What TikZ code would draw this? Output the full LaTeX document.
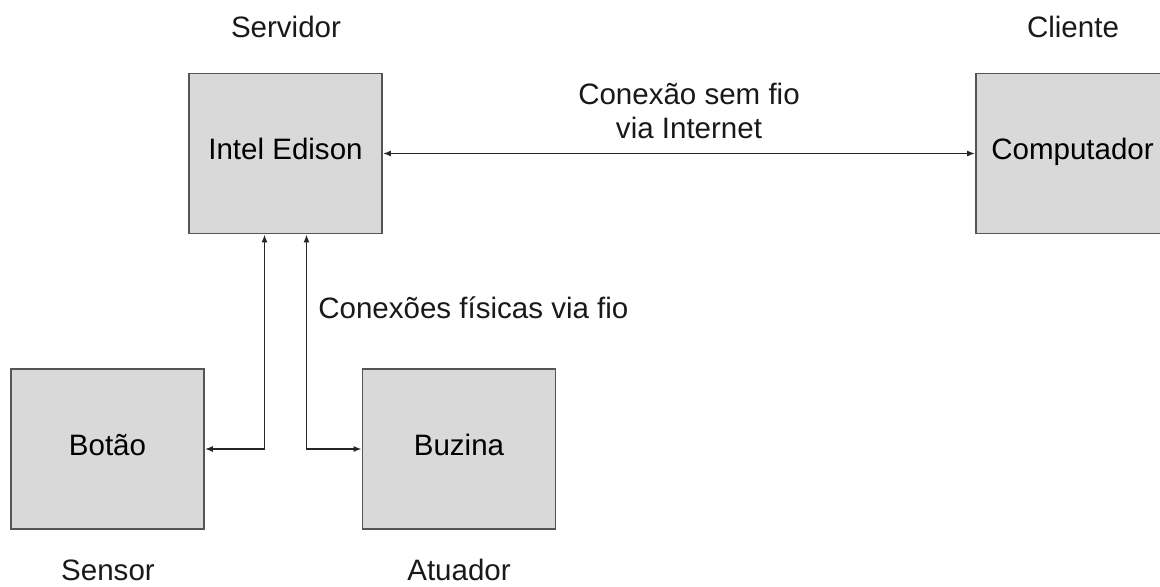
\documentclass[tikz,border=0pt]{standalone}
\usepackage{fontspec}
\setmainfont{Liberation Sans}
\usetikzlibrary{arrows.meta}
\definecolor{boxgray}{HTML}{D9D9D9}
\definecolor{edgegray}{HTML}{555555}

\begin{document}
\begin{tikzpicture}[x=0.02cm, y=-0.02cm, every node/.style={font=\fontsize{16.8}{18.8}\selectfont}]
	\tikzstyle{blocknode}=[draw=edgegray, line width=1pt, fill=boxgray, minimum width=3.86cm, minimum height=3.2cm, text height=0.72em, text depth=0pt, inner sep=0pt]
	\tikzstyle{tagnode}=[anchor=base, inner sep=0pt, text=black!90]
	\tikzstyle{link}=[<->, >={Latex[length=1.6mm, width=1.2mm]}, line width=0.85pt, draw=black!85]

	\useasboundingbox (0,0) rectangle (1160,586);

	\node (srv) at (285.5,153.5) [blocknode] {Intel Edison};
	\node (cli) at (1072.5,153.5) [blocknode] {Computador};
	\node (sen) at (107.5,449) [blocknode] {Botão};
	\node (atu) at (459,449) [blocknode] {Buzina};

	\node (srvL) at (286,37) [tagnode] {Servidor};
	\node (cliL) at (1073,37) [tagnode] {Cliente};
	\node (senL) at (108,580) [tagnode] {Sensor};
	\node (atuL) at (459,580) [tagnode] {Atuador};
	\node (wifi) at (689,138) [tagnode, align=center] {Conexão sem fio\\via Internet};
	\node (wire) at (318,318) [tagnode, anchor=base west] {Conexões físicas via fio};

	\draw [link] (srv) -- (cli);
	\draw [link] ([xshift=-0.42cm]srv.south) |- (sen.east);
	\draw [link] ([xshift=0.42cm]srv.south) |- (atu.west);
\end{tikzpicture}
\end{document}
